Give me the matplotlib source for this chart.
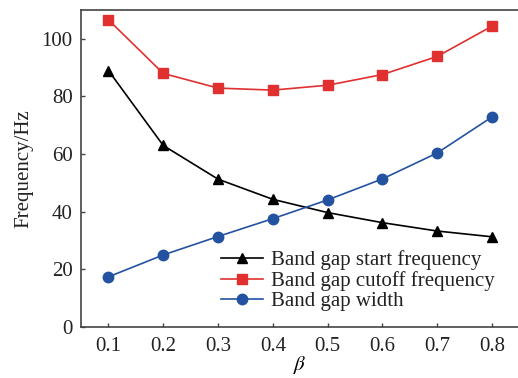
import numpy as np
import matplotlib
matplotlib.use("Agg")
import matplotlib.pyplot as plt

plt.rcParams['font.family'] = ['Liberation Serif', 'DejaVu Serif']
plt.rcParams['mathtext.fontset'] = 'stix'

beta = [0.1, 0.2, 0.3, 0.4, 0.5, 0.6, 0.7, 0.8]
start_freq = [89.0, 63.0, 51.3, 44.3, 39.7, 36.2, 33.3, 31.3]
cutoff_freq = [106.6, 88.0, 82.9, 82.2, 83.9, 87.6, 93.9, 104.4]
gap_width = [17.4, 25.0, 31.4, 37.6, 44.1, 51.4, 60.4, 72.9]
xticks = [0.1, 0.2, 0.3, 0.4, 0.5, 0.6, 0.7, 0.8]
yticks = [0, 20, 40, 60, 80, 100]

W, H = 518, 378
fig = plt.figure(figsize=(W/100, H/100), dpi=100)
ax = fig.add_axes([81/W, 1-327/H, (519.5-81)/W, (327-10)/H])

ax.plot(beta, start_freq, color='black', lw=1.2, marker='^', ms=7.5, label='Band gap start frequency')
ax.plot(beta, cutoff_freq, color='#e03030', lw=1.2, marker='s', ms=6.5, label='Band gap cutoff frequency')
ax.plot(beta, gap_width, color='#2352a0', lw=1.2, marker='o', ms=7.5, label='Band gap width')

ax.set_xlim(0.05, 0.85)
ax.set_ylim(0, 110)
ax.set_xticks(xticks)
ax.set_xticklabels([f"{v:.1f}" for v in xticks])
ax.set_yticks(yticks)
ax.tick_params(direction='in', length=3, width=1, color='#444444', labelsize=15, labelcolor='#222222')
ax.tick_params(axis='x', pad=7)
ax.tick_params(axis='y', pad=6)
for s in ['left', 'bottom', 'top']:
	ax.spines[s].set_color('#444444')
	ax.spines[s].set_linewidth(1.2)
ax.spines['right'].set_visible(False)

ax.set_xlabel(r'$\beta$', fontsize=15, labelpad=-1)
ax.set_ylabel('Frequency/Hz', fontsize=15, color='#222222', labelpad=6)

leg = ax.legend(loc='upper left', bbox_to_anchor=(221/W, 1-250/H), bbox_transform=fig.transFigure,
	frameon=False, fontsize=15, handlelength=2.0, handletextpad=0.4, labelspacing=0.05,
	borderpad=0, borderaxespad=0)
for t in leg.get_texts():
	t.set_color('#222222')

fig.savefig('out.png', dpi=100)
